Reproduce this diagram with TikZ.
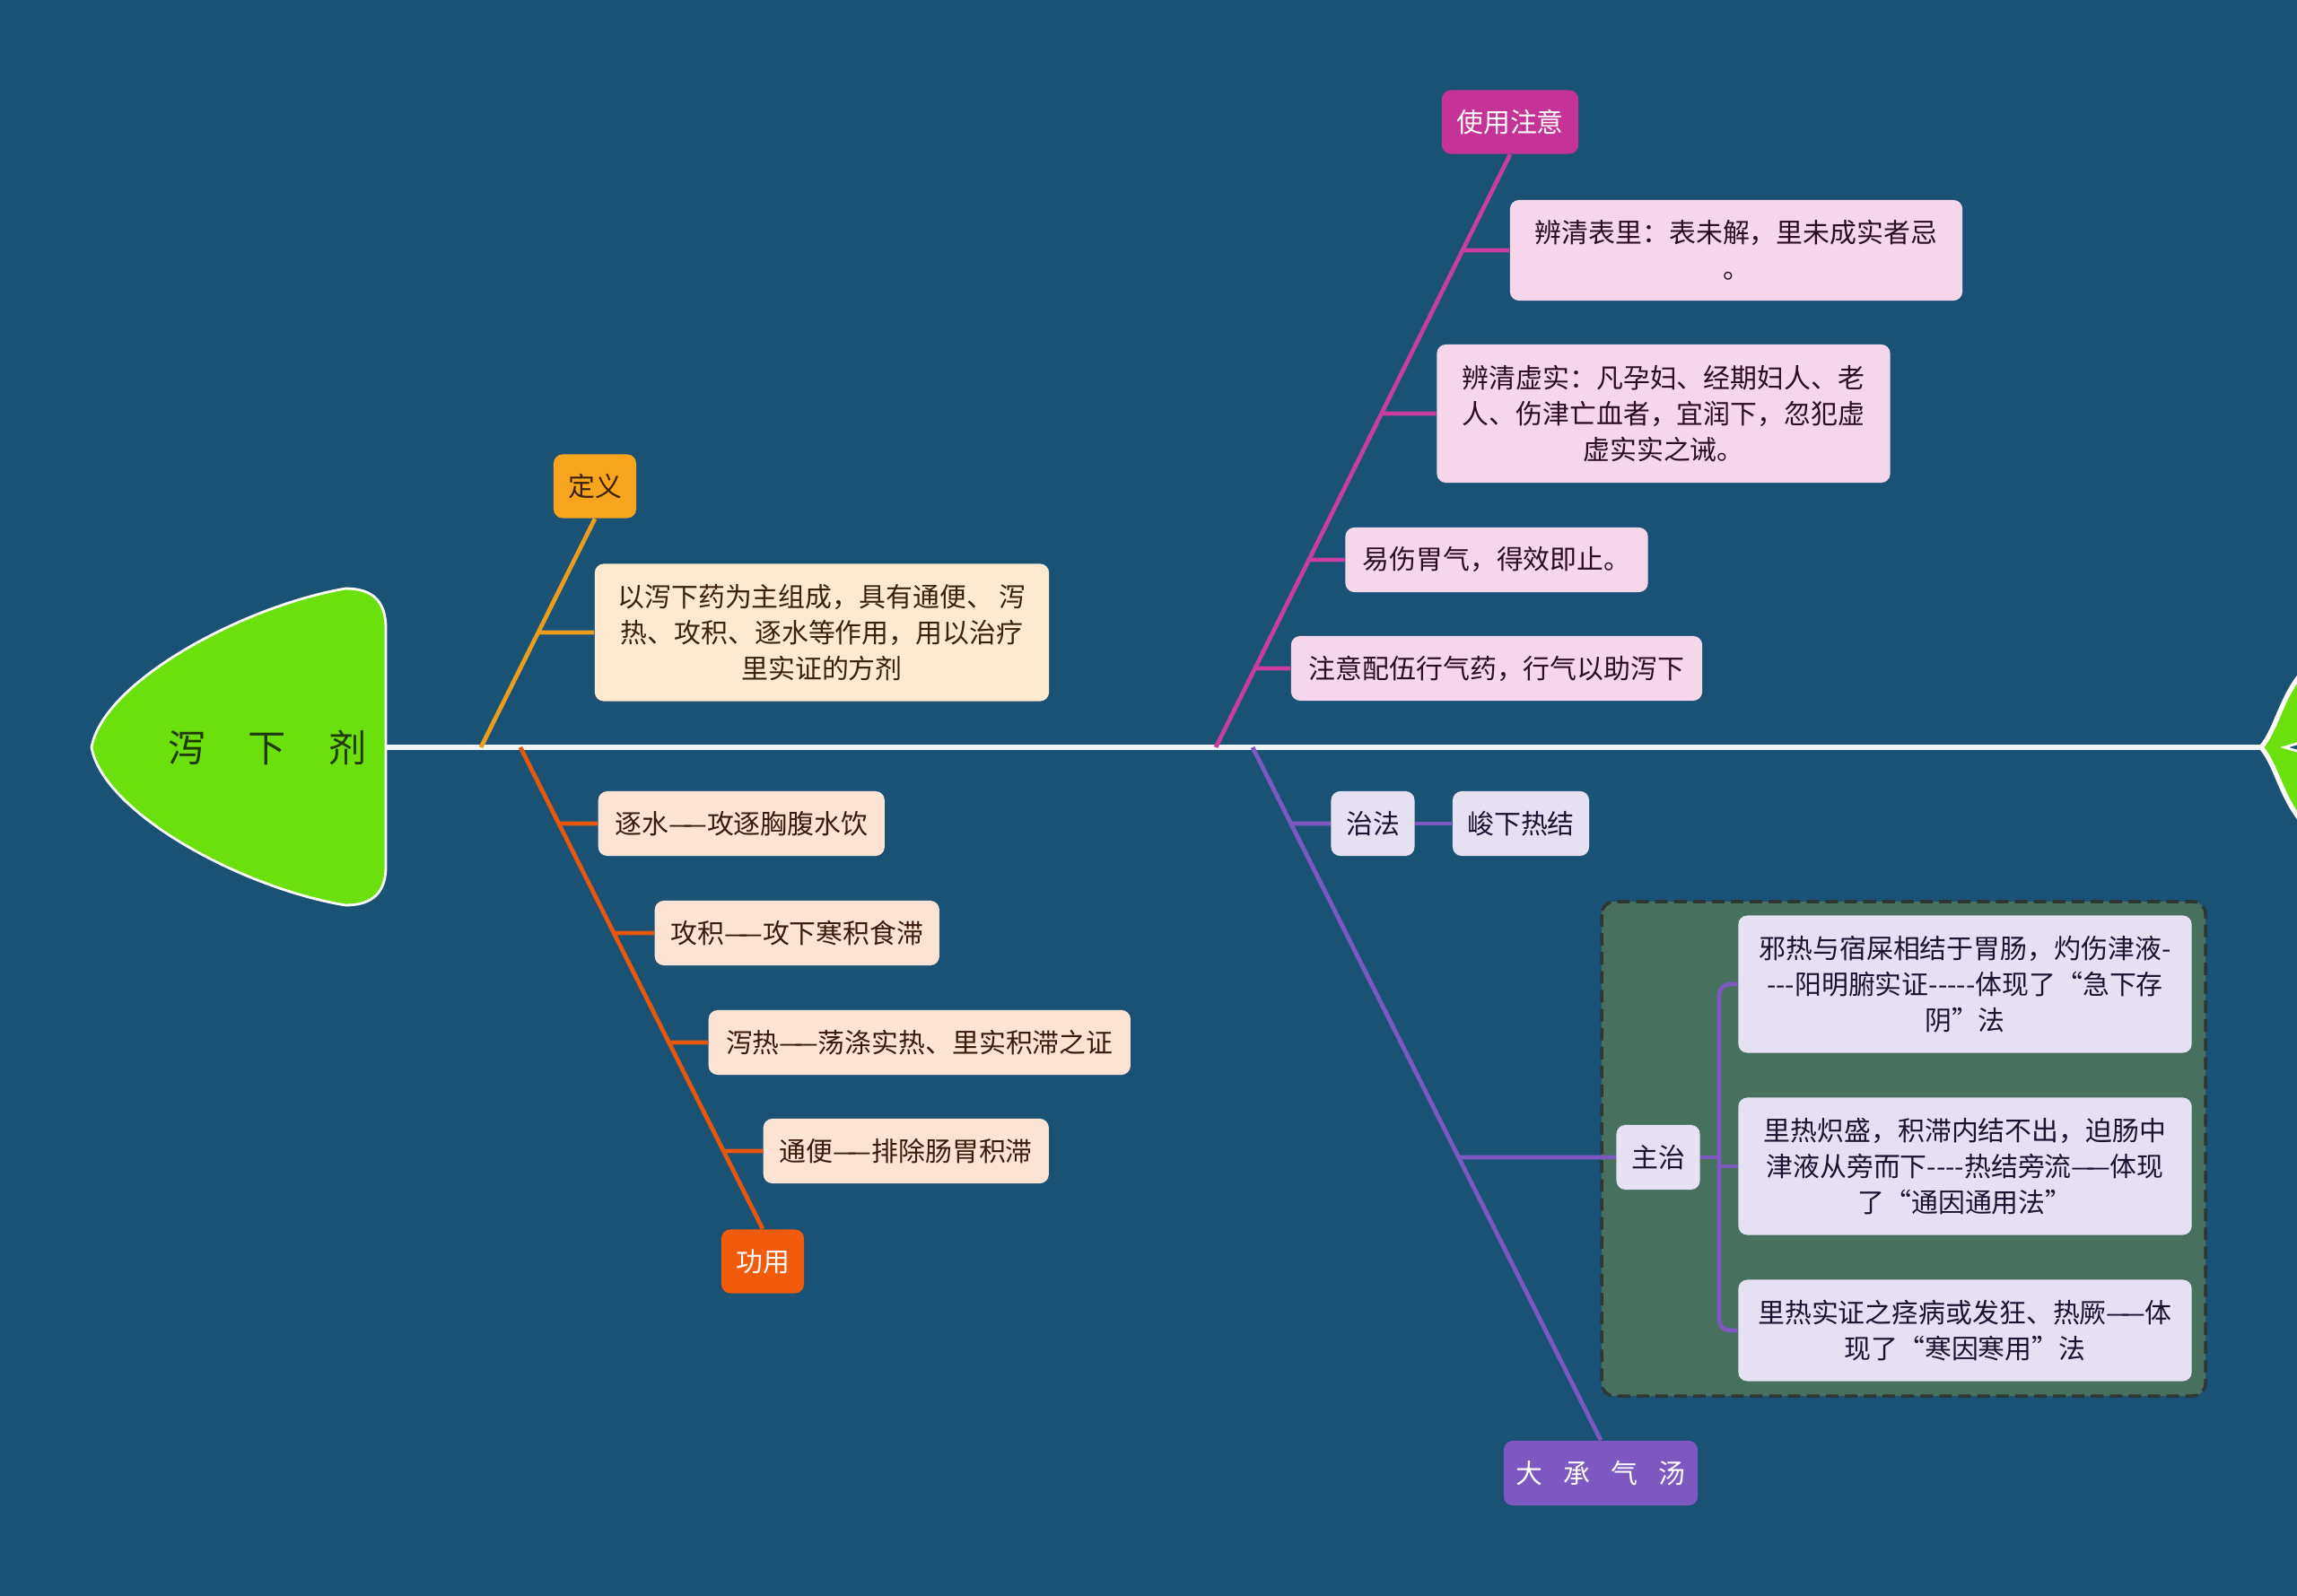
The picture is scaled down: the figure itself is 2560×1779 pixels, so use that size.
\documentclass[tikz,border=0pt]{standalone}
\usepackage{fontspec}
\setmainfont{Noto Sans CJK SC}
\usetikzlibrary{calc}
\usetikzlibrary{positioning}

\definecolor{bgblue}{HTML}{1A5276}
\definecolor{spinecol}{HTML}{EEF6FA}
\definecolor{headgreen}{HTML}{6CE00C}
\definecolor{headtext}{HTML}{1E3A08}
\definecolor{defcol}{HTML}{F8A51E}
\definecolor{defpale}{HTML}{FEEBCF}
\definecolor{deftext}{HTML}{3B200C}
\definecolor{usecol}{HTML}{F35B0C}
\definecolor{usepale}{HTML}{FDE3D4}
\definecolor{usetext}{HTML}{3B1A0C}
\definecolor{carecol}{HTML}{C53398}
\definecolor{carepale}{HTML}{F5D6EB}
\definecolor{caretext}{HTML}{2B0B22}
\definecolor{dcqcol}{HTML}{7D58C0}
\definecolor{dcqpale}{HTML}{E5E0F2}
\definecolor{dcqtext}{HTML}{1C1230}
\definecolor{groupfill}{HTML}{47705F}
\definecolor{groupedge}{HTML}{2B3833}

\newcommand{\zdash}{—\kern-0.35em—}

\begin{document}
\begin{tikzpicture}[x=0.01cm,y=-0.01cm,
                    every node/.style={inner sep=0pt,
                                       font=\fontsize{8.5}{11.4}\selectfont},
                    box/.style={rectangle,rounded corners=0.1cm,align=center,
                                minimum height=0.72cm},
                    defbox/.style={box,fill=defcol,text=deftext},
                    defitem/.style={box,fill=defpale,text=deftext},
                    usebox/.style={box,fill=usecol,text=white},
                    useitem/.style={box,fill=usepale,text=usetext},
                    carebox/.style={box,fill=carecol,text=white},
                    careitem/.style={box,fill=carepale,text=caretext},
                    dcqbox/.style={box,fill=dcqcol,text=white},
                    dcqitem/.style={box,fill=dcqpale,text=dcqtext},
                    bone/.style={line width=1.35pt},
                    defline/.style={bone,draw=defcol!95!black},
                    useline/.style={bone,draw=usecol!95!black},
                    careline/.style={bone,draw=carecol!95!white},
                    dcqline/.style={bone,draw=dcqcol},
                    spine/.style={line width=1.8pt,draw=spinecol}]
% background
\fill[bgblue] (0,0) rectangle (2560,1779);
\useasboundingbox (0,0) rectangle (2560,1779);
%
% fish head and tail
\draw[white,fill=headgreen,line width=0.8pt] (430,833) -- (430,700)
     .. controls (430,670) and (415,656) .. (385,656)
     .. controls (270,676) and (115,760) .. (102,833)
     .. controls (115,906) and (270,990) .. (385,1009)
     .. controls (415,1009) and (430,995) .. (430,966) -- cycle;
\node[font=\fontsize{12}{14}\selectfont,text=headtext] (head) at (298,833)
     {泻\hspace{0.47cm}下\hspace{0.47cm}剂};
\draw[white,fill=headgreen,line width=1.5pt] (2520,833)
     .. controls (2538,812) and (2542,775) .. (2570,745) -- (2570,921)
     .. controls (2542,891) and (2538,854) .. (2520,833) -- cycle;
\filldraw[fill=bgblue,draw=white,line width=0.8pt]
     (2546,833) -- (2570,826) -- (2570,840) -- cycle;
\coordinate (neck) at (430,833);
\coordinate (tail) at (2520,833);
%
% group frame behind the main-treatment items
\draw[draw=groupedge,fill=groupfill,line width=1pt,dash pattern=on 4pt off 2pt,
      rounded corners=0.14cm] (1785,1005) rectangle (2458,1556);
%
% branch roots on the spine
\coordinate (def root) at (536,833);
\coordinate (use root) at (580,833);
\coordinate (care root) at (1355,833);
\coordinate (dcq root) at (1396,833);
%
% definition
\node[defbox,minimum width=0.92cm,minimum height=0.71cm] (def) at (663,542) {定义};
\node[defitem,minimum width=5.06cm,minimum height=1.53cm] (def item) at (916,705)
     {以泻下药为主组成，具有通便、 泻\\热、攻积、逐水等作用，用以治疗\\里实证的方剂};
%
% function
\node[usebox,minimum width=0.92cm,minimum height=0.71cm] (use) at (850,1406) {功用};
\foreach \i/\x/\y/\w/\txt in {1/666/918/3.19/逐水\zdash 攻逐胸腹水饮,
                              2/729/1040/3.17/攻积\zdash 攻下寒积食滞,
                              3/789/1162/4.70/泻热\zdash 荡涤实热、里实积滞之证,
                              4/850/1283/3.18/通便\zdash 排除肠胃积滞}
{
      \node[useitem,anchor=west,minimum width=\w cm] (use item \i) at (\x,\y) {\txt};
}
%
% cautions
\node[carebox,minimum width=1.52cm,minimum height=0.71cm] (care) at (1683,136) {使用注意};
\node[careitem,minimum width=5.04cm,minimum height=1.12cm] (care item 1) at (1935,279)
     {辨清表里：表未解，里未成实者忌\\。};
\node[careitem,minimum width=5.05cm,minimum height=1.54cm] (care item 2) at (1854,461)
     {辨清虚实：凡孕妇、经期妇人、老\\人、伤津亡血者，宜润下，忽犯虚\\虚实实之诫。};
\node[careitem,minimum width=3.37cm] (care item 3) at (1668,624) {易伤胃气，得效即止。};
\node[careitem,minimum width=4.58cm] (care item 4) at (1668,745) {注意配伍行气药，行气以助泻下};
%
% da cheng qi tang
\node[dcqbox,minimum width=2.16cm] (dcq) at (1784,1642)
     {大\hspace{0.23cm}承\hspace{0.23cm}气\hspace{0.23cm}汤};
\node[dcqitem,minimum width=0.93cm] (zf) at (1530,918) {治法};
\node[dcqitem,minimum width=1.52cm] (jx) at (1695,918) {峻下热结};
\node[dcqitem,minimum width=0.93cm] (zz) at (1848,1290) {主治};
\node[dcqitem,minimum width=5.05cm,minimum height=1.53cm] (zz item 1) at (2190,1097)
     {邪热与宿屎相结于胃肠，灼伤津液-\\-{}-{}-阳明腑实证-{}-{}-{}-{}-体现了“急下存\\阴”法};
\node[dcqitem,minimum width=5.05cm,minimum height=1.53cm] (zz item 2) at (2190,1300)
     {里热炽盛，积滞内结不出，迫肠中\\津液从旁而下-{}-{}-{}-热结旁流\zdash 体现\\了“通因通用法”};
\node[dcqitem,minimum width=5.05cm,minimum height=1.13cm] (zz item 3) at (2190,1483)
     {里热实证之痉病或发狂、热厥\zdash 体\\现了“寒因寒用”法};
\coordinate (fork) at (1916,1290);
%
% bones
\draw[spine] (neck) -- (tail);
\draw[defline] (def root) -- (def.south);
\draw[defline] (def item.west) -- (intersection of def root--def.south and def item.west--def item.east);
\draw[useline] (use root) -- (use.north);
\foreach \i in {1,...,4}
      \draw[useline] (use item \i.west)
            -- (intersection of use root--use.north and use item \i.west--use item \i.east);
\draw[careline] (care root) -- (care.south);
\foreach \i in {1,...,4}
      \draw[careline] (care item \i.west)
            -- (intersection of care root--care.south and care item \i.west--care item \i.east);
\draw[dcqline] (dcq root) -- (dcq.north);
\draw[dcqline] (zf.west) -- (intersection of dcq root--dcq.north and zf.west--zf.east);
\draw[dcqline] (zf.east) -- (jx.west);
\draw[dcqline] (zz.west) -- (intersection of dcq root--dcq.north and zz.west--zz.east);
\draw[dcqline] (zz.east) -- (fork);
\draw[dcqline,rounded corners=0.12cm] (zz item 1.west) -| (fork) |- (zz item 3.west);
\draw[dcqline] (zz item 2.west) -- (zz item 2.west -| fork);
\end{tikzpicture}
\end{document}
